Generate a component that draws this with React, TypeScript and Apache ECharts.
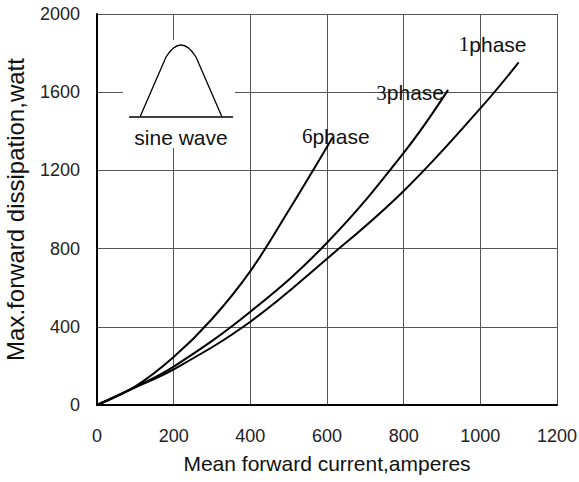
import React, { useEffect, useRef } from "react";
import * as echarts from "echarts";

const xTicks = [0, 200, 400, 600, 800, 1000, 1200];
const yTicks = [0, 400, 800, 1200, 1600, 2000];

const phase1: number[][] = [[0, 0], [100, 90], [200, 182], [400, 426], [600, 748], [800, 1095], [1000, 1517], [1100, 1752]];
const phase3: number[][] = [[0, 0], [100, 92], [200, 196], [400, 477], [600, 830], [800, 1290], [916, 1612]];
const phase6: number[][] = [[0, 0], [100, 95], [200, 245], [300, 440], [400, 685], [500, 995], [615, 1370]];

const seriesNames = ["1", "3", "6"];
const labelOffsets: number[][] = [[-26, -18], [-38, 3], [3, -1]];

const sinePath = "M129 117 L233 117 M140 117 L166 57 Q181 33 196 57 L222 117";
let registered = false;

export default function App() {
  const ref = useRef<HTMLDivElement>(null);
  useEffect(() => {
    if (!ref.current) return;
    if (!registered) {
      echarts.graphic.registerShape("sinewave", echarts.graphic.extendPath(sinePath, {}) as any);
      registered = true;
    }
    const chart = echarts.init(ref.current, null, { renderer: "svg" });
    const datas = [phase1, phase3, phase6];
    const rich = {
      d: { fontFamily: "Liberation Serif", fontSize: 21, color: "#111" },
      p: { fontFamily: "Liberation Sans", fontSize: 21, color: "#111" },
    };
    chart.setOption({
      animation: false,
      backgroundColor: "#fff",
      grid: { left: 97, right: 22, top: 14, bottom: 77, show: false, containLabel: false, outerBoundsMode: "none" },
      xAxis: {
        type: "value",
        min: 0,
        max: 1200,
        interval: 200,
        name: "Mean forward current,amperes",
        nameLocation: "middle",
        nameGap: 48,
        nameTextStyle: { fontFamily: "Liberation Sans", fontSize: 21, color: "#111" },
        axisLine: { show: true, lineStyle: { color: "#000", width: 2 } },
        axisTick: { show: false },
        axisLabel: {
          margin: 22,
          fontFamily: "Liberation Sans",
          fontSize: 18,
          color: "#222",
          formatter: (v: number) => (xTicks.includes(v) ? String(v) : ""),
        },
        splitLine: { show: true, lineStyle: { color: "#555", width: 1 } },
      },
      yAxis: {
        type: "value",
        min: 0,
        max: 2000,
        interval: 400,
        name: "Max.forward dissipation,watt",
        nameLocation: "middle",
        nameGap: 70,
        nameTextStyle: { fontFamily: "Liberation Sans", fontSize: 24, color: "#111" },
        axisLine: { show: true, lineStyle: { color: "#000", width: 2 } },
        axisTick: { show: false },
        axisLabel: {
          margin: 17,
          fontFamily: "Liberation Sans",
          fontSize: 18,
          color: "#222",
          formatter: (v: number) => (yTicks.includes(v) ? String(v) : ""),
        },
        splitLine: { show: true, lineStyle: { color: "#555", width: 1 } },
      },
      series: datas.map((d, i) => ({
        type: "line",
        data: d,
        smooth: 0.4,
        showSymbol: false,
        lineStyle: { color: "#000", width: 2 },
        markPoint: {
          symbol: "circle",
          symbolSize: 0,
          itemStyle: { color: "transparent" },
          data: [
            {
              coord: d[d.length - 1],
              label: {
                show: true,
                position: "inside",
                offset: labelOffsets[i],
                formatter: "{d|" + seriesNames[i] + "}{p|phase}",
                rich,
              },
            },
          ],
        },
      })),
      graphic: [
        { type: "rect", z: 10, shape: { x: 123, y: 40, width: 112, height: 108 }, style: { fill: "#fff" } },
        { type: "sinewave", z: 11, x: 0, y: 0, style: { stroke: "#000", fill: "none", lineWidth: 1.3 } },
        {
          type: "text",
          z: 11,
          x: 181,
          y: 137,
          style: {
            text: "sine wave",
            fontFamily: "Liberation Sans",
            fontSize: 21,
            fill: "#111",
            align: "center",
            verticalAlign: "middle",
          },
        },
      ],
    });
    return () => chart.dispose();
  }, []);
  return <div ref={ref} style={{ position: "fixed", left: 0, top: 0, width: 579, height: 482 }} />;
}
